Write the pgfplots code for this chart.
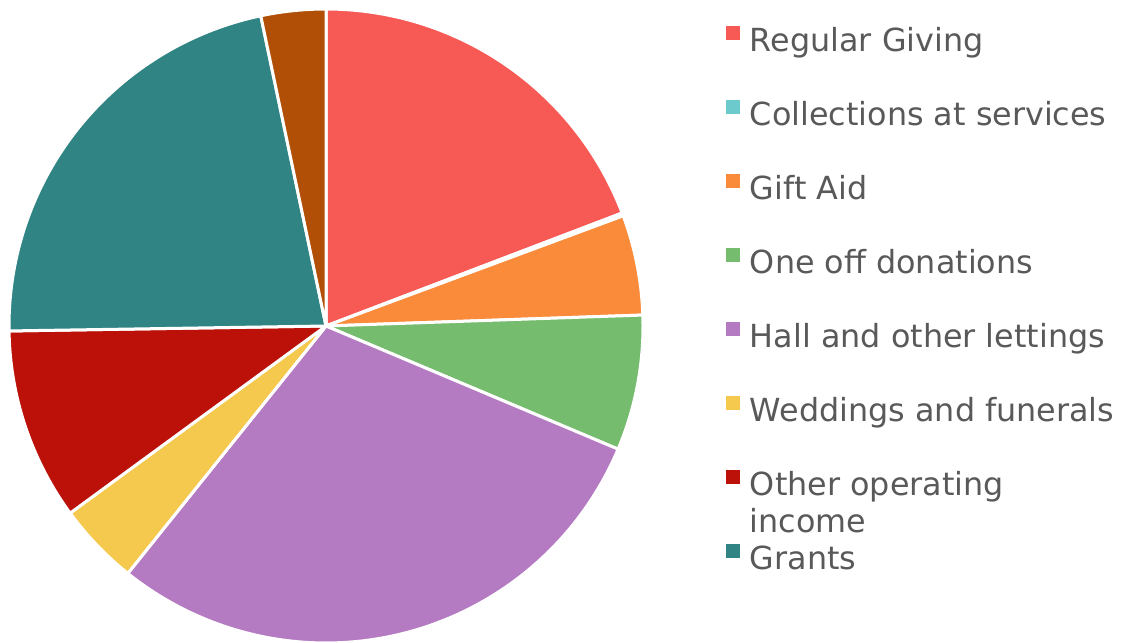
\documentclass[border=0pt]{standalone}
\usepackage{pgfplots}
\pgfplotsset{compat=1.18}
\usepackage{fontspec}
\setmainfont{DejaVu Sans}
\definecolor{cA}{HTML}{F75A55}
\definecolor{cB}{HTML}{6CCACC}
\definecolor{cC}{HTML}{F98B3A}
\definecolor{cD}{HTML}{75BC6E}
\definecolor{cE}{HTML}{B57BC2}
\definecolor{cF}{HTML}{F5C84E}
\definecolor{cG}{HTML}{BB1109}
\definecolor{cH}{HTML}{318484}
\definecolor{cI}{HTML}{B04F05}
\definecolor{txt}{HTML}{595959}
\begin{document}
\begin{tikzpicture}
\useasboundingbox (0,0) rectangle (1123pt,642pt);
\begin{axis}[
  at={(326pt,316pt)}, anchor=origin,
  x=317pt, y=317pt,
  xmin=-1.0284, xmax=2.5142, ymin=-0.9968, ymax=1.0284,
  hide axis, clip=false,
  legend style={at={(726/1123,0.9595)}, anchor=north west, draw=none, fill=none,
    inner sep=0pt, outer sep=0pt, row sep=40pt, column sep=10pt,
    text=txt, font=\fontsize{31.8}{37}\selectfont,
    nodes={text height=24pt, text depth=8pt, inner sep=0pt, outer sep=0pt}},
  legend cell align=left,
  legend image code/.code={\fill[#1,draw=none] (0pt,4pt) rectangle (14pt,18pt);},
]
\xdef\cum{90}
\pgfplotsforeachungrouped \v/\c in {19.2/cA,0.15/cB,5.1/cC,6.9/cD,29.4/cE,4.2/cF,9.8/cG,21.95/cH,3.3/cI}{
  \pgfmathsetmacro\a{\cum}
  \pgfmathsetmacro\b{\cum-3.6*\v}
  \edef\temp{\noexpand\addplot[fill=\c, draw=white, line width=3pt, line join=round, domain=\b:\a, samples=80, no markers] ({cos(x)},{sin(x)}) -- (axis cs:0,0) -- cycle;}
  \temp
  \xdef\cum{\b}
}
\legend{Regular Giving, Collections at services, Gift Aid, One off donations, Hall and other lettings, Weddings and funerals, {\smash{\parbox[t]{12cm}{\raggedright Other operating\\income}}}, Grants}
\end{axis}
\end{tikzpicture}
\end{document}
